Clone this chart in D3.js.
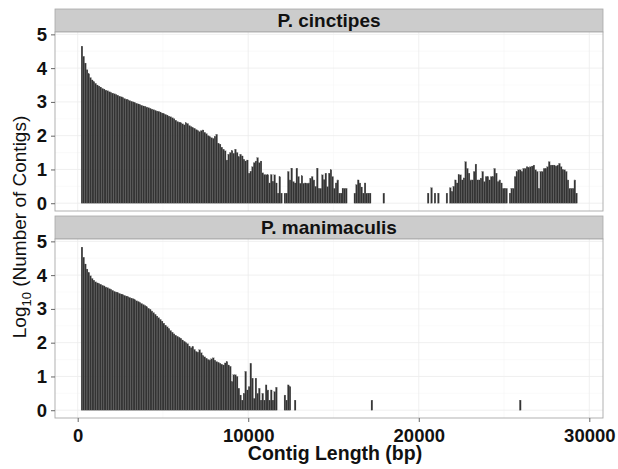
<!DOCTYPE html>
<html>
<head>
<meta charset="utf-8">
<script src="https://cdn.jsdelivr.net/npm/d3@7"></script>
<style>
html,body{margin:0;padding:0;background:#fff;}
svg{display:block;}
text{font-family:"Liberation Sans",Arial,Helvetica,sans-serif;}
</style>
</head>
<body>
<div id="chart"></div>
<script>
// ---- data: log10(number of contigs) per 100-bp length bin, bins start at 200 bp ----
const binWidth = 100;
const firstBin = 200;
const panels = ["P. cinctipes", "P. manimaculis"];
const cinctipesLog10 = [
  4.65,4.35,4.15,3.95,3.83,3.72,3.65,3.6,
  3.55,3.5,3.47,3.44,3.4,3.38,3.35,3.33,3.3,3.28,
  3.26,3.24,3.22,3.2,3.17,3.15,3.13,3.1,3.08,3.06,
  3.04,3.02,3.0,2.98,2.96,2.94,2.92,2.9,2.88,2.87,
  2.85,2.83,2.81,2.79,2.77,2.75,2.73,2.72,2.7,2.67,
  2.65,2.63,2.61,2.58,2.56,2.53,2.5,2.46,2.42,2.4,
  2.38,2.35,2.32,2.38,2.36,2.3,2.27,2.24,2.22,2.18,
  2.15,2.12,2.15,2.17,2.1,2.06,2.0,1.97,1.94,1.92,
  1.98,2.04,1.78,1.75,1.66,1.6,1.55,1.28,1.45,1.5,
  1.56,1.48,1.6,1.5,1.38,1.45,1.4,1.3,1.25,1.28,
  0.89,0.95,1.08,1.2,1.25,1.35,1.2,1.25,0.9,0.85,
  0.84,0.84,0.6,0.85,0.65,0.84,0.6,0.3,0.78,0.3,
  0,0.3,0.3,0.94,0.69,1.04,0.64,0.6,1.04,0.79,
  0.59,0.81,0.59,0.6,0.59,0.6,0.74,0.79,0.69,0.5,
  1.04,0.44,0.44,0.84,0.7,0.89,0.49,0.89,0.99,0.79,
  0.44,0.6,0.69,0.3,0.3,0.44,0.44,0.44,0,0,
  0,0,0.3,0.55,0.69,0.6,0.48,0.3,0.6,0.3,
  0.3,0.3,0,0,0,0,0,0,0,0.3,
  0,0,0,0,0,0,0,0,0,0,
  0,0,0,0,0,0,0,0,0,0,
  0,0,0,0,0,0.3,0,0.46,0,0.3,
  0,0.3,0,0,0,0,0.3,0,0.46,0.35,
  0.5,0.69,0.6,0.84,0.84,0.69,0.75,1.23,1.03,0.89,
  0.69,0.69,0.94,1.16,0.69,0.69,0.74,0.94,0.64,0.79,
  0.79,0.69,0.79,0.79,1.03,0.89,0.64,0.69,0.6,0.44,
  0.44,0.44,0,0.3,0.44,0.44,0.79,0.94,0.99,0.99,
  0.94,1.03,1.03,1.08,1.06,1.08,1.1,1.13,0.99,0.94,
  0.44,0.94,0.94,1.03,1.03,1.08,1.23,1.13,1.13,1.13,
  1.1,1.13,1.18,1.08,0.99,0.99,0.94,0.69,0.44,0.44,
  0.44,0.69,0.3
];
const manimaculisLog10 = [
  4.83,4.53,4.33,4.18,4.08,3.98,3.9,3.85,
  3.8,3.77,3.75,3.73,3.7,3.68,3.65,3.63,3.6,3.58,
  3.55,3.52,3.5,3.48,3.46,3.44,3.42,3.4,3.38,3.36,
  3.34,3.32,3.3,3.27,3.24,3.22,3.19,3.16,3.13,3.1,
  3.06,3.02,2.99,2.94,2.89,2.84,2.79,2.74,2.69,2.64,
  2.58,2.52,2.47,2.42,2.36,2.31,2.26,2.22,2.19,2.16,
  2.13,2.08,2.04,2.0,1.97,1.9,1.85,1.89,1.8,1.74,
  1.72,1.79,1.7,1.62,1.58,1.54,1.5,1.49,1.52,1.55,
  1.48,1.44,1.42,1.39,1.36,1.34,1.4,1.44,1.34,1.3,
  0.85,1.05,1.05,1.0,0.65,0.45,0.3,0.5,1.15,0.6,
  0.7,1.39,0.95,0.35,0.95,0.5,0.65,0.3,0.5,0.3,
  0.75,0.6,0.3,0.6,0.3,0.55,0.68,0,0,0,
  0,0.45,0.3,0.75,0.7,0,0,0.3,0,0,
  0,0,0,0,0,0,0,0,0,0,
  0,0,0,0,0,0,0,0,0,0,
  0,0,0,0,0,0,0,0,0,0,
  0,0,0,0,0,0,0,0,0,0,
  0,0,0.3,0,0,0,0,0,0,0,
  0,0,0,0,0,0,0,0,0,0,
  0,0,0,0,0,0,0,0,0,0,
  0,0,0,0,0,0,0,0,0,0,
  0,0,0,0,0,0,0,0,0,0,
  0,0,0,0,0,0,0,0,0,0,
  0,0,0,0,0,0,0,0,0,0,
  0,0,0,0,0,0,0,0,0,0,
  0,0,0,0,0,0,0,0,0,0.3,
  0,0,0,0,0,0,0,0,0,0,
  0,0,0,0,0,0,0,0,0,0,
  0,0,0,0,0,0,0,0,0,0,
  0,0,0
];
const xTicks = [0, 10000, 20000, 30000];
const xMinor = [5000, 15000, 25000];
const yTicks = [0, 1, 2, 3, 4, 5];
const yMinor = [0.5, 1.5, 2.5, 3.5, 4.5];
const xTitle = "Contig Length (bp)";

// ---- layout ----
const W = 618, H = 469;
const L = 55, R = 603;
const panelBoxes = [
  {stripTop: 9, top: 32, bottom: 211, values: cinctipesLog10},
  {stripTop: 216, top: 239, bottom: 418, values: manimaculisLog10}
];

const svg = d3.select("#chart").append("svg").attr("width", W).attr("height", H);

const x = d3.scaleLinear().domain([-1331, 30803]).range([L, R]);

panelBoxes.forEach((p, i) => {
  const y = d3.scaleLinear().domain([-0.23, 5.07]).range([p.bottom, p.top]);
  const g = svg.append("g");
  // strip
  g.append("rect").attr("x", L).attr("y", p.stripTop).attr("width", R - L).attr("height", p.top - p.stripTop)
    .attr("fill", "#cccccc").attr("stroke", "#a8a8a8").attr("stroke-width", 0.8);
  g.append("text").attr("x", (L + R) / 2).attr("y", p.top - 5.5).attr("text-anchor", "middle")
    .attr("font-size", 19).attr("font-weight", "bold").attr("fill", "#111").text(panels[i]);
  // panel bg
  g.append("rect").attr("x", L).attr("y", p.top).attr("width", R - L).attr("height", p.bottom - p.top).attr("fill", "#fff");
  // grid
  g.selectAll(".ymin").data(yMinor).join("line").attr("x1", L).attr("x2", R)
    .attr("y1", d => y(d)).attr("y2", d => y(d)).attr("stroke", "#f6f6f6").attr("stroke-width", 0.6);
  g.selectAll(".xmin").data(xMinor).join("line").attr("y1", p.top).attr("y2", p.bottom)
    .attr("x1", d => x(d)).attr("x2", d => x(d)).attr("stroke", "#f6f6f6").attr("stroke-width", 0.6);
  g.selectAll(".ymaj").data(yTicks).join("line").attr("x1", L).attr("x2", R)
    .attr("y1", d => y(d)).attr("y2", d => y(d)).attr("stroke", "#ececec").attr("stroke-width", 0.8);
  g.selectAll(".xmaj").data(xTicks).join("line").attr("y1", p.top).attr("y2", p.bottom)
    .attr("x1", d => x(d)).attr("x2", d => x(d)).attr("stroke", "#ececec").attr("stroke-width", 0.8);
  // bars
  const bars = p.values.map((v, k) => ({start: firstBin + k * binWidth, v})).filter(d => d.v > 0);
  g.selectAll(".bar").data(bars).join("rect")
    .attr("x", d => x(d.start))
    .attr("width", d => x(d.start + binWidth) - x(d.start))
    .attr("y", d => y(d.v))
    .attr("height", d => y(0) - y(d.v))
    .attr("fill", "#333333").attr("stroke", "#5a5a5a").attr("stroke-width", 0.2);
  // border
  g.append("rect").attr("x", L).attr("y", p.top).attr("width", R - L).attr("height", p.bottom - p.top)
    .attr("fill", "none").attr("stroke", "#a8a8a8").attr("stroke-width", 0.9);
  // y axis
  const ya = g.append("g").attr("transform", `translate(${L},0)`)
    .call(d3.axisLeft(y).tickValues(yTicks).tickSize(4).tickPadding(4).tickFormat(d3.format("d")));
  ya.select(".domain").remove();
  ya.selectAll(".tick line").attr("stroke", "#666");
  ya.selectAll(".tick text").attr("font-size", 18.5).attr("font-weight", "bold").attr("fill", "#111")
    .attr("font-family", "Liberation Sans, Arial, sans-serif");
  if (i === 1) {
    const xa = g.append("g").attr("transform", `translate(0,${p.bottom})`)
      .call(d3.axisBottom(x).tickValues(xTicks).tickSize(4).tickPadding(4).tickFormat(d3.format("d")));
    xa.select(".domain").remove();
    xa.selectAll(".tick line").attr("stroke", "#666");
    xa.selectAll(".tick text").attr("font-size", 18.5).attr("font-weight", "bold").attr("fill", "#111")
      .attr("font-family", "Liberation Sans, Arial, sans-serif").attr("dy", "0.85em");
  }
});

// axis titles
svg.append("text").attr("x", (L + R) / 2 + 6).attr("y", 460).attr("text-anchor", "middle")
  .attr("font-size", 19.5).attr("font-weight", "bold").attr("fill", "#111").text(xTitle);
const yt = svg.append("text").attr("transform", "translate(26,227) rotate(-90)").attr("text-anchor", "middle")
  .attr("font-size", 19).attr("fill", "#111");
yt.append("tspan").text("Log");
yt.append("tspan").attr("font-size", 13).attr("dy", 5).text("10");
yt.append("tspan").attr("dy", -5).text(" (Number of Contigs)");
</script>
</body>
</html>
